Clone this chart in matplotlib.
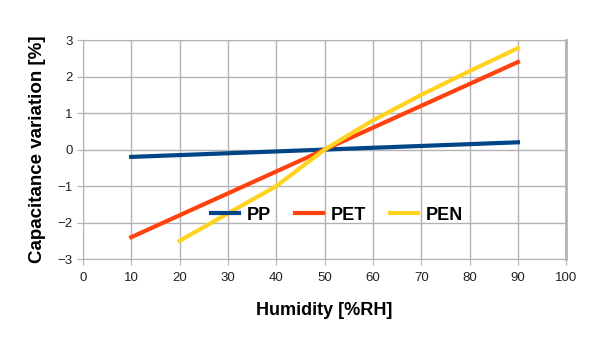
import matplotlib
matplotlib.use("Agg")
import matplotlib.pyplot as plt

plt.rcParams["font.family"] = ["Liberation Sans", "DejaVu Sans"]

# ── Data ──────────────────────────────────────────────────────────────
humidity = [10, 20, 30, 40, 50, 60, 70, 80, 90]
pp = [-0.2, -0.15, -0.1, -0.05, 0.0, 0.05, 0.1, 0.15, 0.2]
pet = [-2.4, -1.8, -1.2, -0.6, 0.0, 0.6, 1.2, 1.8, 2.4]
pen_x = [20, 30, 40, 50, 60, 70, 80, 90]
pen = [-2.5, -1.75, -1.0, 0.0, 0.8, 1.5, 2.15, 2.78]

# ── Plot ──────────────────────────────────────────────────────────────
fig = plt.figure(figsize=(6.05, 3.4), dpi=100)
ax = fig.add_axes([0.137, 0.238, 0.799, 0.644])

ax.plot(humidity, pp, color="#004586", linewidth=3, label="PP")
ax.plot(humidity, pet, color="#ff420e", linewidth=3, label="PET")
ax.plot(pen_x, pen, color="#ffd320", linewidth=3, label="PEN")

ax.set_xlim(0, 100)
ax.set_ylim(-3, 3)
ax.set_xticks(range(0, 101, 10))
ax.set_yticks(range(-3, 4))
ax.grid(color="#b3b3b3", linewidth=1)
ax.set_axisbelow(True)

for side in ["left", "bottom", "top", "right"]:
    ax.spines[side].set_color("#b3b3b3")
ax.spines["right"].set_linewidth(2)
ax.tick_params(length=4, color="#b3b3b3", labelsize=9.5, labelcolor="#222222")
ax.tick_params(axis="x", pad=5)

ax.set_xlabel("Humidity [%RH]", fontsize=13, fontweight="bold", labelpad=13)
ax.set_ylabel("Capacitance variation [%]", fontsize=13.5, fontweight="bold", labelpad=8)

ax.legend(loc="center", bbox_to_anchor=(0.526, 0.2), ncol=3, frameon=False,
          prop={"weight": "bold", "size": 13}, handlelength=1.55,
          columnspacing=1.3, handletextpad=0.45)

plt.savefig("out.png", dpi=100)
